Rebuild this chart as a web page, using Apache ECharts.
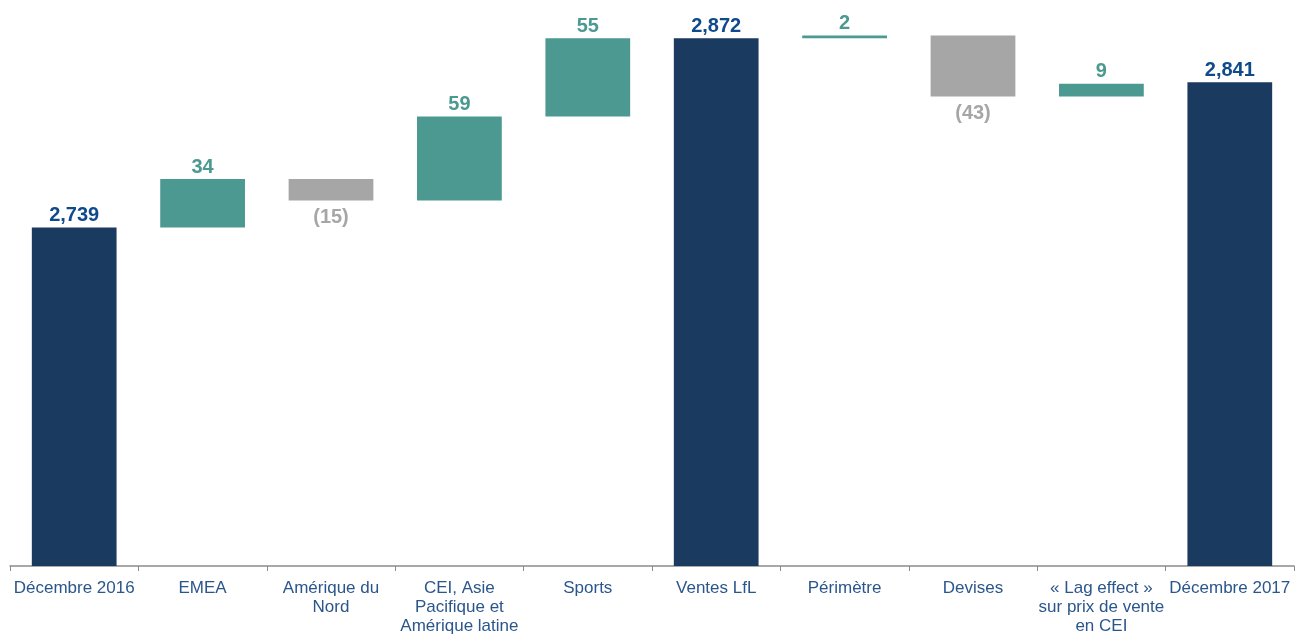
<!DOCTYPE html>
<html><head><meta charset="utf-8">
<script src="https://cdn.jsdelivr.net/npm/echarts@6/dist/echarts.min.js"></script>
<style>html,body{margin:0;padding:0;background:#fff}#c{width:1295px;height:636px}</style>
</head><body><div id="c"></div>
<script>
var categories = ["Décembre 2016","EMEA","Amérique du\nNord","CEI, Asie\nPacifique et\nAmérique latine","Sports","Ventes LfL","Périmètre","Devises","« Lag effect »\nsur prix de vente\nen CEI","Décembre 2017"];
var values = [2739, 34, -15, 59, 55, 2872, 2, -43, 9, 2841];
var isTotal = [true, false, false, false, false, true, false, false, false, true];

var C_TOTAL = '#1a3a5f', C_UP = '#4b9991', C_DOWN = '#a6a6a6';
var L_TOTAL = '#0f4a8a';

var base = [], bars = [], running = 0;
for (var i = 0; i < values.length; i++) {
  var v = values[i];
  if (isTotal[i]) {
    running = v;
    base.push(0);
    bars.push({value: v, itemStyle: {color: C_TOTAL},
      label: {show: true, position: 'top', distance: 2, color: L_TOTAL, formatter: v.toLocaleString('en-US')}});
  } else if (v >= 0) {
    base.push(running);
    bars.push({value: v, itemStyle: {color: C_UP},
      label: {show: true, position: 'top', distance: 2, color: C_UP, formatter: String(v)}});
    running += v;
  } else {
    running += v;
    base.push(running);
    bars.push({value: -v, itemStyle: {color: C_DOWN},
      label: {show: true, position: 'bottom', distance: 7, color: C_DOWN, formatter: '(' + (-v) + ')'}});
  }
}

var chart = echarts.init(document.getElementById('c'));
chart.setOption({
  animation: false,
  grid: {left: 10, right: 1, top: 24, bottom: 68, containLabel: false},
  xAxis: {
    type: 'category', data: categories,
    axisLine: {lineStyle: {color: '#8c8c8c', width: 1.5}},
    axisTick: {show: true, length: 5, lineStyle: {color: '#8c8c8c'}},
    axisLabel: {interval: 0, color: '#2b568c', fontFamily: 'Liberation Sans, Arial, sans-serif', fontSize: 17, lineHeight: 19, margin: 13}
  },
  yAxis: {type: 'value', min: 2501, max: 2882, show: false, splitLine: {show: false}},
  series: [
    {type: 'bar', stack: 'w', data: base, itemStyle: {color: 'transparent'}, barWidth: '66%', silent: true},
    {type: 'bar', stack: 'w', data: bars, barWidth: '66%',
      label: {fontFamily: 'Liberation Sans, Arial, sans-serif', fontSize: 20, fontWeight: 'bold'}}
  ]
});
</script></body></html>
